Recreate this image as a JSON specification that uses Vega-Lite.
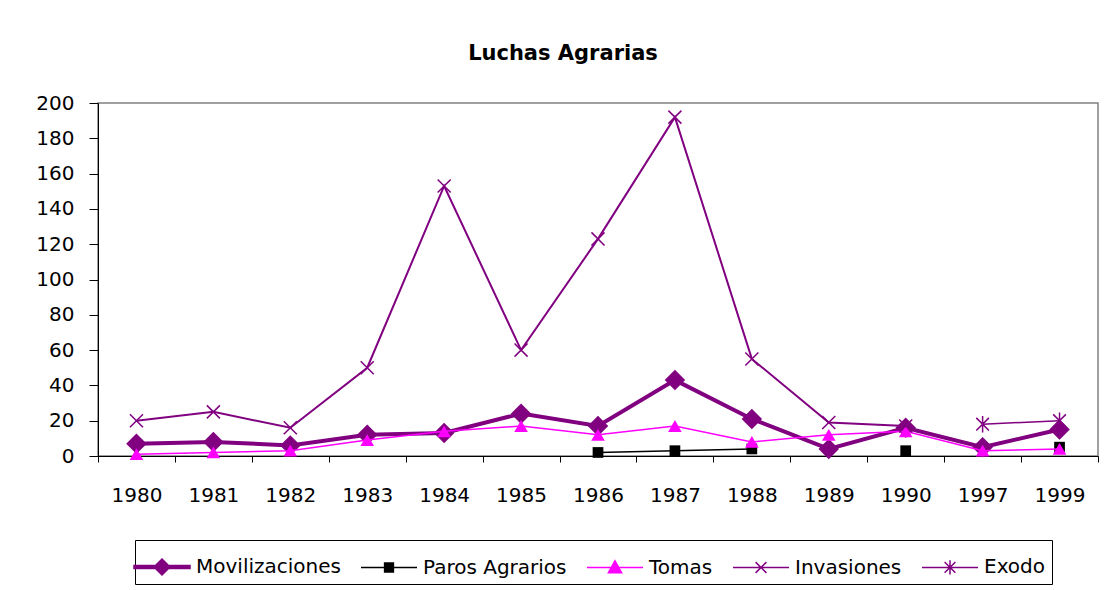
{
  "$schema": "https://vega.github.io/schema/vega-lite/v6.json",
  "width": 1000,
  "height": 353,
  "autosize": {"type": "none"},
  "padding": {"left": 98, "top": 103, "right": 8, "bottom": 134},
  "background": "white",
  "title": {
    "text": "Luchas Agrarias",
    "font": "DejaVu Sans",
    "fontSize": 21,
    "fontWeight": "bold",
    "color": "black",
    "anchor": "middle",
    "dx": -35,
    "offset": 29
  },
  "config": {
    "view": {"stroke": "#808080", "strokeWidth": 1.5},
    "axis": {"labelFont": "DejaVu Sans", "labelColor": "black", "domainColor": "black", "tickColor": "black", "grid": false, "title": null},
    "legend": {"labelFont": "DejaVu Sans", "labelFontSize": 20, "labelColor": "black"}
  },
  "data": {
    "values": [
      {"year": "1980", "serie": "Movilizaciones", "valor": 7},
      {"year": "1981", "serie": "Movilizaciones", "valor": 8},
      {"year": "1982", "serie": "Movilizaciones", "valor": 6},
      {"year": "1983", "serie": "Movilizaciones", "valor": 12},
      {"year": "1984", "serie": "Movilizaciones", "valor": 13},
      {"year": "1985", "serie": "Movilizaciones", "valor": 24},
      {"year": "1986", "serie": "Movilizaciones", "valor": 17},
      {"year": "1987", "serie": "Movilizaciones", "valor": 43},
      {"year": "1988", "serie": "Movilizaciones", "valor": 21},
      {"year": "1989", "serie": "Movilizaciones", "valor": 4},
      {"year": "1990", "serie": "Movilizaciones", "valor": 16},
      {"year": "1997", "serie": "Movilizaciones", "valor": 5},
      {"year": "1999", "serie": "Movilizaciones", "valor": 15},
      {"year": "1980", "serie": "Paros Agrarios", "valor": null},
      {"year": "1981", "serie": "Paros Agrarios", "valor": null},
      {"year": "1982", "serie": "Paros Agrarios", "valor": null},
      {"year": "1983", "serie": "Paros Agrarios", "valor": null},
      {"year": "1984", "serie": "Paros Agrarios", "valor": null},
      {"year": "1985", "serie": "Paros Agrarios", "valor": null},
      {"year": "1986", "serie": "Paros Agrarios", "valor": 2},
      {"year": "1987", "serie": "Paros Agrarios", "valor": 3},
      {"year": "1988", "serie": "Paros Agrarios", "valor": 4},
      {"year": "1989", "serie": "Paros Agrarios", "valor": null},
      {"year": "1990", "serie": "Paros Agrarios", "valor": 3},
      {"year": "1997", "serie": "Paros Agrarios", "valor": null},
      {"year": "1999", "serie": "Paros Agrarios", "valor": 5},
      {"year": "1980", "serie": "Tomas", "valor": 1},
      {"year": "1981", "serie": "Tomas", "valor": 2},
      {"year": "1982", "serie": "Tomas", "valor": 3},
      {"year": "1983", "serie": "Tomas", "valor": 9},
      {"year": "1984", "serie": "Tomas", "valor": 14},
      {"year": "1985", "serie": "Tomas", "valor": 17},
      {"year": "1986", "serie": "Tomas", "valor": 12},
      {"year": "1987", "serie": "Tomas", "valor": 17},
      {"year": "1988", "serie": "Tomas", "valor": 8},
      {"year": "1989", "serie": "Tomas", "valor": 12},
      {"year": "1990", "serie": "Tomas", "valor": 14},
      {"year": "1997", "serie": "Tomas", "valor": 3},
      {"year": "1999", "serie": "Tomas", "valor": 4},
      {"year": "1980", "serie": "Invasiones", "valor": 20},
      {"year": "1981", "serie": "Invasiones", "valor": 25},
      {"year": "1982", "serie": "Invasiones", "valor": 16},
      {"year": "1983", "serie": "Invasiones", "valor": 50},
      {"year": "1984", "serie": "Invasiones", "valor": 153},
      {"year": "1985", "serie": "Invasiones", "valor": 60},
      {"year": "1986", "serie": "Invasiones", "valor": 123},
      {"year": "1987", "serie": "Invasiones", "valor": 192},
      {"year": "1988", "serie": "Invasiones", "valor": 55},
      {"year": "1989", "serie": "Invasiones", "valor": 19},
      {"year": "1990", "serie": "Invasiones", "valor": 17},
      {"year": "1997", "serie": "Invasiones", "valor": null},
      {"year": "1999", "serie": "Invasiones", "valor": null},
      {"year": "1980", "serie": "Exodo", "valor": null},
      {"year": "1981", "serie": "Exodo", "valor": null},
      {"year": "1982", "serie": "Exodo", "valor": null},
      {"year": "1983", "serie": "Exodo", "valor": null},
      {"year": "1984", "serie": "Exodo", "valor": null},
      {"year": "1985", "serie": "Exodo", "valor": null},
      {"year": "1986", "serie": "Exodo", "valor": null},
      {"year": "1987", "serie": "Exodo", "valor": null},
      {"year": "1988", "serie": "Exodo", "valor": null},
      {"year": "1989", "serie": "Exodo", "valor": null},
      {"year": "1990", "serie": "Exodo", "valor": null},
      {"year": "1997", "serie": "Exodo", "valor": 18},
      {"year": "1999", "serie": "Exodo", "valor": 20}
    ]
  },
  "encoding": {
    "x": {
      "field": "year",
      "type": "ordinal",
      "bandPosition": 0.5,
      "scale": {"type": "band", "paddingInner": 0, "paddingOuter": 0},
      "axis": {"labelAngle": 0, "labelFontSize": 20, "tickBand": "extent", "tickSize": 6, "labelPadding": 23}
    },
    "y": {
      "field": "valor",
      "type": "quantitative",
      "scale": {"domain": [0, 200], "nice": false},
      "axis": {"values": [0, 20, 40, 60, 80, 100, 120, 140, 160, 180, 200], "labelFontSize": 20, "tickSize": 9, "labelPadding": 15}
    }
  },
  "layer": [
    {
      "transform": [{"filter": "datum.serie === 'Movilizaciones'"}],
      "mark": {"type": "line", "color": "#800080", "strokeWidth": 4, "point": {"shape": "diamond", "filled": true, "size": 420, "color": "#800080"}}
    },
    {
      "transform": [{"filter": "datum.serie === 'Paros Agrarios'"}],
      "mark": {"type": "line", "color": "black", "strokeWidth": 1.5, "point": {"shape": "square", "filled": true, "size": 115, "color": "black"}}
    },
    {
      "transform": [{"filter": "datum.serie === 'Tomas'"}],
      "mark": {"type": "line", "color": "#FF00FF", "strokeWidth": 1.5, "point": {"shape": "triangle-up", "filled": true, "size": 185, "color": "#FF00FF"}}
    },
    {
      "transform": [{"filter": "datum.serie === 'Invasiones'"}],
      "mark": {"type": "line", "color": "#800080", "strokeWidth": 2, "point": {"shape": "M-1,-1L1,1M-1,1L1,-1", "filled": false, "size": 170, "strokeWidth": 1.5, "color": "#800080"}}
    },
    {
      "transform": [{"filter": "datum.serie === 'Exodo'"}],
      "mark": {"type": "line", "color": "#800080", "strokeWidth": 1.5, "point": {"shape": "M-1,-1L1,1M-1,1L1,-1M0,-1.3L0,1.3", "filled": false, "size": 160, "strokeWidth": 1.5, "color": "#800080"}}
    },
    {
      "mark": {"type": "point", "opacity": 0, "filled": true},
      "encoding": {
        "shape": {
          "field": "serie",
          "type": "nominal",
          "scale": {
            "domain": ["Movilizaciones", "Paros Agrarios", "Tomas", "Invasiones", "Exodo"],
            "range": [
              "M-1.4,-0.07H1.4V0.07H-1.4Z M0,-0.4L0.4,0L0,0.4L-0.4,0Z",
              "M-1.4,0H1.4M-0.22,-0.22H0.22V0.22H-0.22Z",
              "M-1.4,0H1.4M0,-0.33L0.33,0.26L-0.33,0.26Z",
              "M-1.4,0H1.4M-0.27,-0.27L0.27,0.27M-0.27,0.27L0.27,-0.27",
              "M-1.4,0H1.4M-0.27,-0.27L0.27,0.27M-0.27,0.27L0.27,-0.27M0,-0.36V0.36"
            ]
          },
          "legend": {
            "title": null,
            "orient": "none",
            "legendX": 37,
            "legendY": 437,
            "direction": "horizontal",
            "columns": 5,
            "symbolSize": 1600,
            "symbolStrokeWidth": 1.5,
            "symbolOpacity": 1,
            "labelOffset": 13,
            "columnPadding": 17,
            "padding": 6,
            "strokeColor": "black",
            "fillColor": "white"
          }
        },
        "fill": {
          "field": "serie",
          "type": "nominal",
          "scale": {"domain": ["Movilizaciones", "Paros Agrarios", "Tomas", "Invasiones", "Exodo"], "range": ["#800080", "black", "#FF00FF", "#800080", "#800080"]},
          "legend": {"title": null, "orient": "none", "legendX": 37, "legendY": 437, "direction": "horizontal", "columns": 5, "symbolSize": 1600, "symbolStrokeWidth": 1.5, "symbolOpacity": 1, "labelOffset": 13, "columnPadding": 17, "padding": 6, "strokeColor": "black", "fillColor": "white"}
        },
        "stroke": {
          "field": "serie",
          "type": "nominal",
          "scale": {"domain": ["Movilizaciones", "Paros Agrarios", "Tomas", "Invasiones", "Exodo"], "range": ["#800080", "black", "#FF00FF", "#800080", "#800080"]},
          "legend": {"title": null, "orient": "none", "legendX": 37, "legendY": 437, "direction": "horizontal", "columns": 5, "symbolSize": 1600, "symbolStrokeWidth": 1.5, "symbolOpacity": 1, "labelOffset": 13, "columnPadding": 17, "padding": 6, "strokeColor": "black", "fillColor": "white"}
        }
      }
    }
  ]
}
